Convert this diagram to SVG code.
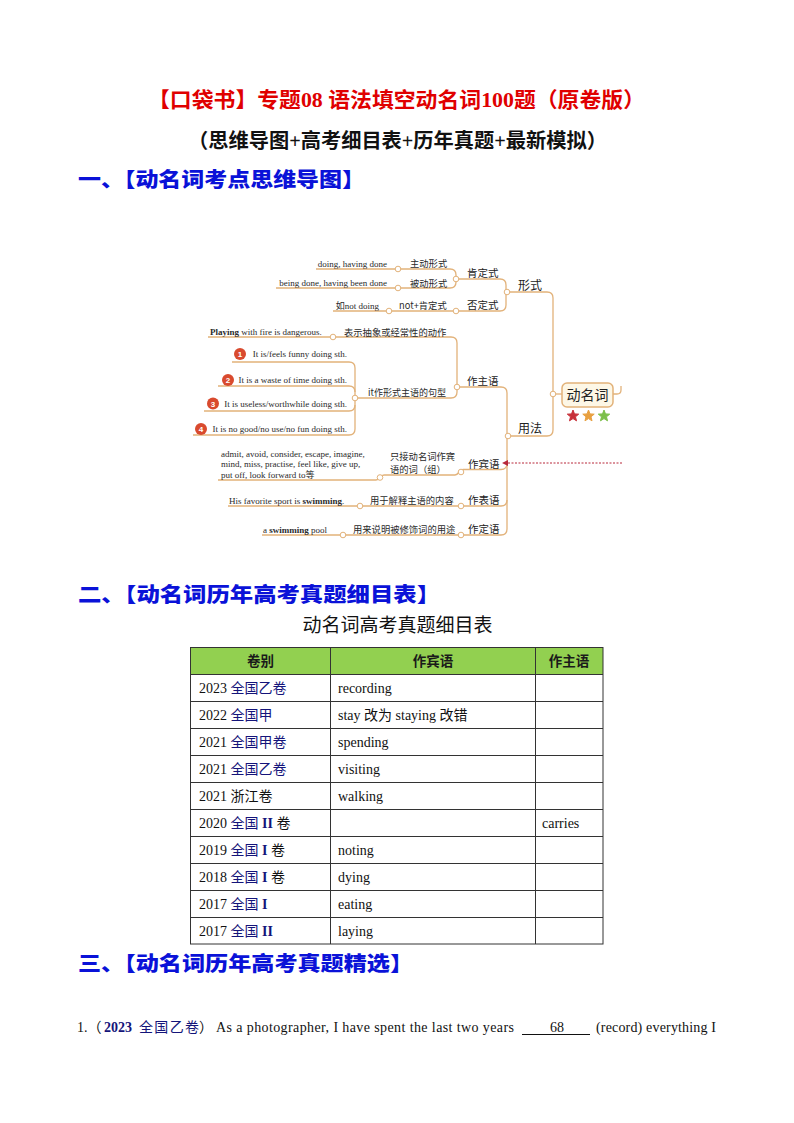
<svg xmlns="http://www.w3.org/2000/svg" width="794" height="1123" viewBox="0 0 794 1123">
<style>
.cjk{font-family:"Noto Sans CJK SC","Liberation Sans",sans-serif}
.ser{font-family:"Liberation Serif","Noto Sans CJK SC",serif}
.title{font-size:21px;font-weight:bold;fill:#e00000}
.sub{font-size:20px;font-weight:bold;fill:#111}
.head{font-size:20px;font-weight:900;fill:#0a12d8}
.en{font-family:"Liberation Serif",serif;font-size:9px;fill:#2a2a2a}
.zh{font-family:"Noto Sans CJK SC",sans-serif;font-size:9.3px;fill:#2a2a2a}
.zh2{font-family:"Noto Sans CJK SC",sans-serif;font-size:10.5px;fill:#222}
.zh3{font-family:"Noto Sans CJK SC",sans-serif;font-size:12px;fill:#222}
.ln{fill:none;stroke:#e2b27a;stroke-width:1.3}
.dot{fill:#fff;stroke:#e2b27a;stroke-width:1}
.num{fill:#d94a2e}
.numt{font-family:"Liberation Sans",sans-serif;font-size:8px;font-weight:bold;fill:#fff;text-anchor:middle}
.grid{stroke:#333;stroke-width:1;fill:none}
.td{font-family:"Liberation Serif","Noto Sans CJK SC",serif;font-size:14px;fill:#111}
.th{font-family:"Noto Sans CJK SC",sans-serif;font-size:13.5px;font-weight:bold;fill:#1a1a1a;text-anchor:middle}
.nv{fill:#14147a}
</style>
<defs>
<polygon id="star" points="0,-6 1.53,-2.1 5.71,-1.85 2.47,0.8 3.53,4.85 0,2.6 -3.53,4.85 -2.47,0.8 -5.71,-1.85 -1.53,-2.1" stroke-linejoin="round" stroke-width="1"/>
<marker id="arr" viewBox="0 0 6 6" refX="5" refY="3" markerWidth="6" markerHeight="6" orient="auto-start-reverse" markerUnits="userSpaceOnUse">
<path d="M0,0 L6,3 L0,6 z" fill="#b8283a"/>
</marker>
</defs>
<rect width="794" height="1123" fill="#fff"/>

<g id="page-title">
<text class="ser title" x="148" y="107" textLength="497" lengthAdjust="spacingAndGlyphs">【口袋书】专题08 语法填空动名词100题（原卷版）</text>
<text class="ser sub" x="188" y="148" textLength="419" lengthAdjust="spacingAndGlyphs">（思维导图+高考细目表+历年真题+最新模拟）</text>
</g>
<g id="heading-1"><text class="cjk head" x="78" y="187" textLength="287" lengthAdjust="spacingAndGlyphs">一、【动名词考点思维导图】</text></g>

<g id="connectors">
<path class="ln" d="M507 292 H547 Q553 292 553 298 V430 Q553 436 547 436 H508"/>
<path class="ln" d="M553 394 H562"/>
<path class="ln" d="M613 394 H617 Q621 394 621 390 V386"/>
<path class="ln" d="M456 279 H500 Q506 279 506 285 V305 Q506 311 500 311 H333"/>
<path class="ln" d="M316 269 H450 Q456 269 456 275 V282 Q456 288 450 288 H276"/>
<path class="ln" d="M457 387 H501 Q507 387 507 393 V529 Q507 535 501 535 H262"/>
<path class="ln" d="M208 337 H451 Q457 337 457 343 V392 Q457 398 451 398 H355"/>
<path class="ln" d="M232 362 H349 Q355 362 355 368 V429 Q355 435 349 435 H193"/>
<path class="ln" d="M218 386 H349 Q355 386 355 392"/>
<path class="ln" d="M204 411 H349 Q355 411 355 405"/>
<path class="ln" d="M507 463 Q507 469.5 501 469.5 H463 C459 469.5 459 475 455 475 H384 C380 475 380 480 376 480 H218"/>
<path class="ln" d="M228 506 H501 Q507 506 507 500"/>
<path d="M622 463 H503" fill="none" stroke="#b8283a" stroke-width="1" stroke-dasharray="2,1.5" marker-end="url(#arr)"/>
<g id="junctions">
<circle class="dot" cx="507" cy="292" r="2.8"/>
<circle class="dot" cx="508" cy="436" r="2.8"/>
<circle class="dot" cx="553" cy="394" r="2.8"/>
<circle class="dot" cx="456" cy="279" r="2.8"/>
<circle class="dot" cx="456" cy="311" r="2.8"/>
<circle class="dot" cx="389" cy="311" r="2.8"/>
<circle class="dot" cx="398" cy="269" r="2.8"/>
<circle class="dot" cx="398" cy="288" r="2.8"/>
<circle class="dot" cx="457" cy="387" r="2.8"/>
<circle class="dot" cx="333" cy="337" r="2.8"/>
<circle class="dot" cx="355" cy="398" r="2.8"/>
<circle class="dot" cx="461" cy="472" r="2.8"/>
<circle class="dot" cx="380" cy="477.5" r="2.8"/>
<circle class="dot" cx="360" cy="506" r="2.8"/>
<circle class="dot" cx="461" cy="506" r="2.8"/>
<circle class="dot" cx="343" cy="535" r="2.8"/>
<circle class="dot" cx="461" cy="535" r="2.8"/>
</g>
</g>

<g id="node-root">
<rect x="562" y="383" width="51" height="24" rx="5" fill="#fdf7e6" stroke="#e2b27a" stroke-width="1.5"/>
<text class="cjk" x="587.5" y="400" font-size="14" fill="#222" text-anchor="middle">动名词</text>
<use href="#star" x="573" y="416" fill="#c8313a" stroke="#c8313a"/>
<use href="#star" x="588.5" y="416" fill="#e8a040" stroke="#e8a040"/>
<use href="#star" x="604" y="416" fill="#7cbf4a" stroke="#7cbf4a"/>
</g>

<g id="node-form">
<text class="zh3" x="518" y="289.5">形式</text>
<text class="zh2" x="467" y="277">肯定式</text>
<text class="zh2" x="467" y="309">否定式</text>
<text class="zh" x="410" y="267">主动形式</text>
<text class="zh" x="410" y="286.5">被动形式</text>
<text class="zh" x="399" y="309">not+肯定式</text>
<text class="en" x="387" y="266.5" text-anchor="end">doing, having done</text>
<text class="en" x="387" y="286" text-anchor="end">being done, having been done</text>
<text class="en" x="379" y="309" text-anchor="end"><tspan font-family="Noto Sans CJK SC">如</tspan>not doing</text>
</g>

<g id="node-usage">
<text class="zh3" x="518" y="433">用法</text>
</g>

<g id="node-subject">
<text class="zh2" x="467" y="385">作主语</text>
<text class="zh" x="344" y="335.5">表示抽象或经常性的动作</text>
<text class="en" x="210" y="335"><tspan font-weight="bold">Playing</tspan> with fire is dangerous.</text>
<text class="zh" x="368" y="396" textLength="78" lengthAdjust="spacingAndGlyphs">it作形式主语的句型</text>
<circle class="num" cx="240" cy="354" r="6"/><text class="numt" x="240" y="357">1</text>
<circle class="num" cx="228" cy="380" r="6"/><text class="numt" x="228" y="383">2</text>
<circle class="num" cx="213" cy="403.5" r="6"/><text class="numt" x="213" y="406.5">3</text>
<circle class="num" cx="201" cy="429" r="6"/><text class="numt" x="201" y="432">4</text>
<text class="en" x="347" y="357" text-anchor="end">It is/feels funny doing sth.</text>
<text class="en" x="347" y="383" text-anchor="end">It is a waste of time doing sth.</text>
<text class="en" x="347" y="406.5" text-anchor="end">It is useless/worthwhile doing sth.</text>
<text class="en" x="347" y="432" text-anchor="end">It is no good/no use/no fun doing sth.</text>
</g>

<g id="node-object">
<text class="zh2" x="468" y="468">作宾语</text>
<text class="zh" x="390" y="459.5">只接动名词作宾</text>
<text class="zh" x="390" y="473">语的词（组）</text>
<text class="en" x="221" y="456.5">admit, avoid, consider, escape, imagine,</text>
<text class="en" x="221" y="467">mind, miss, practise, feel like, give up,</text>
<text class="en" x="221" y="477.5">put off, look forward to<tspan font-family="Noto Sans CJK SC">等</tspan></text>
</g>

<g id="node-predicative">
<text class="zh2" x="468" y="504">作表语</text>
<text class="zh" x="370" y="504">用于解释主语的内容</text>
<text class="en" x="229" y="504">His favorite sport is <tspan font-weight="bold">swimming</tspan>.</text>
</g>

<g id="node-attributive">
<text class="zh2" x="468" y="533">作定语</text>
<text class="zh" x="353" y="532.5">用来说明被修饰词的用途</text>
<text class="en" x="263" y="533">a <tspan font-weight="bold">swimming</tspan> pool</text>
</g>

<g id="heading-2"><text class="cjk head" x="78" y="602" textLength="362" lengthAdjust="spacingAndGlyphs">二、【动名词历年高考真题细目表】</text></g>
<g id="table-title"><text class="cjk" x="397.5" y="632" font-size="19" fill="#111" text-anchor="middle">动名词高考真题细目表</text></g>

<g id="table">
<rect x="190.5" y="647.5" width="412.5" height="27" fill="#92d050"/>
<rect class="grid" x="190.5" y="647.5" width="412.5" height="296.5"/>
<path class="grid" d="M330.5 647.5 V944 M535.5 647.5 V944 M190.5 674.5 H603 M190.5 701.5 H603 M190.5 728.5 H603 M190.5 755.5 H603 M190.5 782.5 H603 M190.5 809.5 H603 M190.5 836.5 H603 M190.5 863.5 H603 M190.5 890.5 H603 M190.5 917.5 H603"/>
<text class="th" x="260.5" y="666">卷别</text>
<text class="th" x="433" y="666">作宾语</text>
<text class="th" x="569" y="666">作主语</text>
<text class="td" x="199" y="692.5">2023 <tspan class="nv">全国乙卷</tspan></text>
<text class="td" x="338" y="692.5">recording</text>
<text class="td" x="199" y="719.5">2022 <tspan class="nv">全国甲</tspan></text>
<text class="td" x="338" y="719.5">stay 改为 staying  改错</text>
<text class="td" x="199" y="746.5">2021 <tspan class="nv">全国甲卷</tspan></text>
<text class="td" x="338" y="746.5">spending</text>
<text class="td" x="199" y="773.5">2021 <tspan class="nv">全国乙卷</tspan></text>
<text class="td" x="338" y="773.5">visiting</text>
<text class="td" x="199" y="800.5">2021 浙江卷</text>
<text class="td" x="338" y="800.5">walking</text>
<text class="td" x="199" y="827.5">2020 <tspan class="nv">全国 <tspan font-weight="bold">II</tspan></tspan> 卷</text>
<text class="td" x="542" y="827.5">carries</text>
<text class="td" x="199" y="854.5">2019 <tspan class="nv">全国 <tspan font-weight="bold">I</tspan></tspan> 卷</text>
<text class="td" x="338" y="854.5">noting</text>
<text class="td" x="199" y="881.5">2018 <tspan class="nv">全国 <tspan font-weight="bold">I</tspan></tspan> 卷</text>
<text class="td" x="338" y="881.5">dying</text>
<text class="td" x="199" y="908.5">2017 <tspan class="nv">全国 <tspan font-weight="bold">I</tspan></tspan></text>
<text class="td" x="338" y="908.5">eating</text>
<text class="td" x="199" y="935.5">2017 <tspan class="nv">全国 <tspan font-weight="bold">II</tspan></tspan></text>
<text class="td" x="338" y="935.5">laying</text>
</g>

<g id="heading-3"><text class="cjk head" x="78" y="971" textLength="335" lengthAdjust="spacingAndGlyphs">三、【动名词历年高考真题精选】</text></g>

<g id="question-1">
<text class="td" x="77" y="1032">1.（</text>
<text class="td nv" x="104" y="1032" font-weight="bold">2023</text>
<text class="td nv" x="139" y="1032" textLength="60" lengthAdjust="spacing">全国乙卷</text>
<text class="td" x="199" y="1032">）</text>
<text class="td" x="216" y="1032" textLength="298" lengthAdjust="spacing">As a photographer, I have spent the last two years</text>
<line x1="522" y1="1034.5" x2="590" y2="1034.5" stroke="#111" stroke-width="1"/>
<text class="td" x="550" y="1032">68</text>
<text class="td" x="596" y="1032" textLength="120" lengthAdjust="spacing">(record) everything I</text>
</g>
</svg>
